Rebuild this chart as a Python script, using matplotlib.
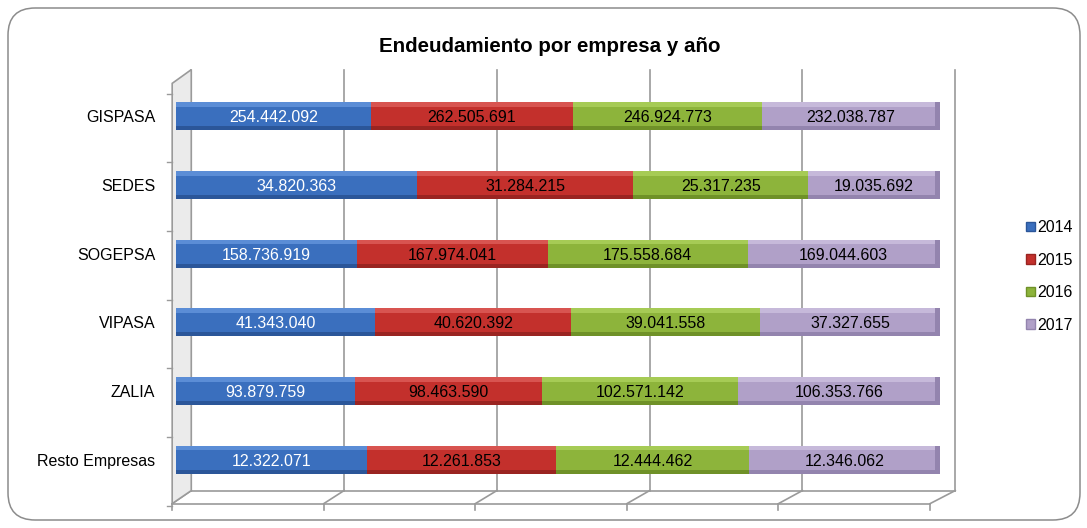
import matplotlib
matplotlib.use("Agg")
import matplotlib.pyplot as plt
import numpy as np
from matplotlib.patches import FancyBboxPatch, Patch, Polygon

plt.rcParams["font.family"] = ["Liberation Sans", "DejaVu Sans"]

companies = ["GISPASA", "SEDES", "SOGEPSA", "VIPASA", "ZALIA", "Resto Empresas"]
years = ["2014", "2015", "2016", "2017"]
v2014 = [254442092, 34820363, 158736919, 41343040, 93879759, 12322071]
v2015 = [262505691, 31284215, 167974041, 40620392, 98463590, 12261853]
v2016 = [246924773, 25317235, 175558684, 39041558, 102571142, 12444462]
v2017 = [232038787, 19035692, 169044603, 37327655, 106353766, 12346062]

COLORS = ["#3A6FBE", "#C3302C", "#8DB43B", "#B0A0C8"]
LIGHT  = ["#5B8DD6", "#D85450", "#A6CB55", "#C6B9DA"]
DARK   = ["#2B5699", "#9A2421", "#6F9128", "#9384AE"]
TEXT   = ["white", "black", "black", "black"]


def fmt(v):
    return f"{v:,}".replace(",", ".")


fig = plt.figure(figsize=(10.87, 5.28), dpi=100)
W, H = 1087, 528

frame = FancyBboxPatch((8 / W, 8 / H), 1072 / W, 512 / H,
                       boxstyle="round,pad=0,rounding_size=0.025",
                       transform=fig.transFigure, facecolor="none",
                       edgecolor="#8C8C8C", linewidth=1.1, mutation_aspect=W / H,
                       zorder=-1)
fig.patches.append(frame)

ax = fig.add_axes([176 / W, 1 - 494 / H, (940 - 176) / W, (494 - 82) / H])
ax.set_xlim(0, 1)
ax.set_ylim(len(companies) - 0.5, -0.5)
for s in ax.spines.values():
    s.set_visible(False)
ax.set_xticks([])
ax.patch.set_alpha(0)

series = np.array([v2014, v2015, v2016, v2017], dtype=float)
shares = series / series.sum(axis=0)
y = np.arange(len(companies))

# back wall, floor and left wall (3D frame)
grid_c = "#9A9A9A"
fracs = np.linspace(0, 1, 6)
top_y, back_y, front_y, tick_y = -0.68, 5.45, 5.64, 5.74
for f in fracs:
    xb = f + 0.02
    xf = f * 0.992 - 0.005
    ax.plot([xb, xb], [top_y, back_y], color=grid_c, lw=1.2, clip_on=False, zorder=0)
    ax.plot([xb, xf], [back_y, front_y], color=grid_c, lw=1.2, clip_on=False, zorder=0)
    ax.plot([xf, xf], [front_y, tick_y], color=grid_c, lw=1.2, clip_on=False, zorder=0)
ax.plot([0.02, 1.02], [back_y, back_y], color=grid_c, lw=1.2, clip_on=False, zorder=0)
ax.plot([-0.005, 0.987], [front_y, front_y], color=grid_c, lw=1.2, clip_on=False, zorder=0)
wall = Polygon([(-0.005, top_y + 0.2), (0.02, top_y), (0.02, back_y), (-0.005, front_y)],
               closed=True, facecolor="#EBEBEB", edgecolor=grid_c, lw=1.2,
               clip_on=False, zorder=0)
ax.add_patch(wall)
for yb in np.arange(-0.5, len(companies), 1.0):
    ax.plot([-0.012, -0.005], [yb + 0.17, yb + 0.17], color=grid_c, lw=1, clip_on=False, zorder=0)

# bars
bh = 0.41
left = np.zeros(len(companies))
for i, yr in enumerate(years):
    ax.barh(y, shares[i], left=left, height=bh, color=COLORS[i], zorder=2)
    ax.barh(y - bh / 2 + 0.035, shares[i], left=left, height=0.07, color=LIGHT[i], zorder=3)
    ax.barh(y + bh / 2 - 0.03, shares[i], left=left, height=0.06, color=DARK[i], zorder=3)
    for yy, l, s, v in zip(y, left, shares[i], series[i]):
        ax.text(l + s / 2, yy + 0.02, fmt(int(v)), ha="center", va="center",
                color=TEXT[i], fontsize=11.5, zorder=4)
    left += shares[i]

# shaded right end cap of the last segment
ax.barh(y, 0.007, left=left - 0.007, height=bh, color=DARK[3], zorder=3)

ax.set_yticks(y)
ax.set_yticklabels(companies, fontsize=11.5)
ax.tick_params(axis="y", length=0, pad=15)

fig.text(550 / W, 1 - 46 / H, "Endeudamiento por empresa y año",
         ha="center", va="center", fontsize=14.8, fontweight="bold")

handles = [Patch(facecolor=COLORS[i], edgecolor=DARK[i]) for i in range(4)]
fig.legend(handles, years, loc="upper left", bbox_to_anchor=(1018 / W, 1 - 212 / H),
           frameon=False, fontsize=11.5, handlelength=0.55, handleheight=0.55,
           handletextpad=0.15, labelspacing=1.1, borderpad=0)

fig.savefig("out.png", dpi=100)
